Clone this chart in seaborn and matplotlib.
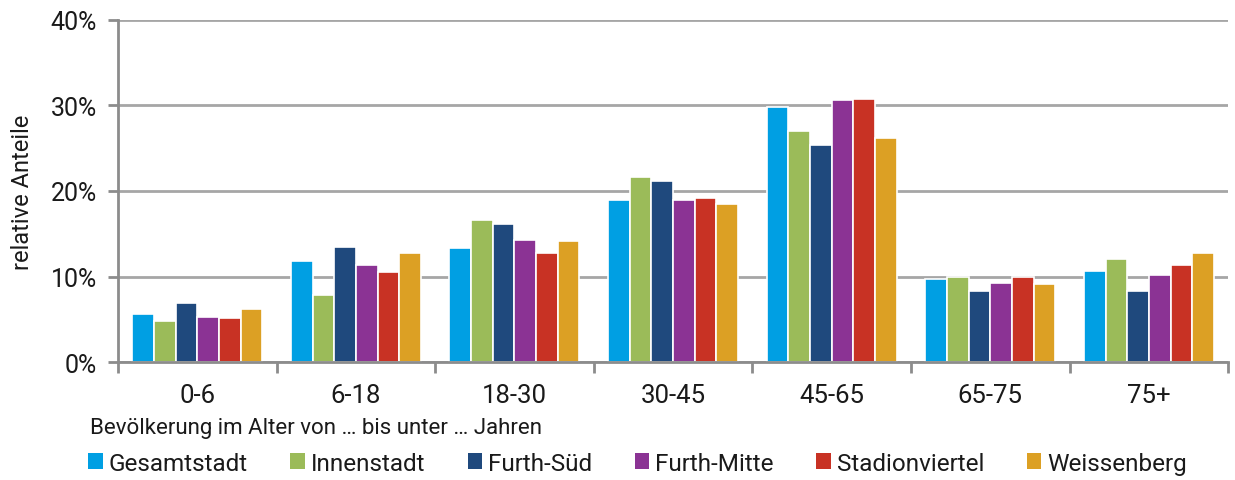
import pandas as pd
import numpy as np
import matplotlib.pyplot as plt
import seaborn as sns
from matplotlib.patches import Patch
from matplotlib.ticker import FixedLocator, PercentFormatter

age_groups = ['0-6', '6-18', '18-30', '30-45', '45-65', '65-75', '75+']
districts = ['Gesamtstadt', 'Innenstadt', 'Furth-Süd', 'Furth-Mitte', 'Stadionviertel', 'Weissenberg']
colors = ['#009FE3', '#9BBB59', '#1F497D', '#8B3394', '#C83224', '#DCA024']

gesamtstadt = [5.6, 11.8, 13.3, 18.9, 29.8, 9.7, 10.6]
innenstadt = [4.8, 7.9, 16.6, 21.6, 27.0, 10.0, 12.0]
furth_sued = [6.9, 13.5, 16.1, 21.2, 25.4, 8.3, 8.3]
furth_mitte = [5.3, 11.3, 14.3, 18.9, 30.6, 9.2, 10.2]
stadionviertel = [5.2, 10.5, 12.8, 19.2, 30.7, 9.9, 11.4]
weissenberg = [6.2, 12.8, 14.1, 18.5, 26.2, 9.1, 12.7]

values = [gesamtstadt, innenstadt, furth_sued, furth_mitte, stadionviertel, weissenberg]
rows = []
for d, vals in zip(districts, values):
    for a, v in zip(age_groups, vals):
        rows.append({'Alter': a, 'Gebiet': d, 'Anteil': v})
df = pd.DataFrame(rows)

plt.rcParams['font.family'] = ['Roboto', 'DejaVu Sans']
text_color = '#1A1A1A'

fig = plt.figure(figsize=(12.35, 4.81), dpi=100)
ax = fig.add_axes([0.0955, 0.245, 0.899, 0.712])

sns.barplot(data=df, x='Alter', y='Anteil', hue='Gebiet', order=age_groups,
            hue_order=districts, palette=colors, saturation=1, width=0.82,
            edgecolor='white', linewidth=1.2, errorbar=None, legend=False,
            ax=ax, zorder=3)

grid_color = '#A6A6A6'
ax.set_ylim(0, 40)
ax.set_xlim(-0.5, len(age_groups) - 0.5)
ax.yaxis.set_major_locator(FixedLocator([0, 10, 20, 30, 40]))
ax.yaxis.set_major_formatter(PercentFormatter(decimals=0))
ax.grid(axis='y', color=grid_color, linewidth=2, zorder=0)
ax.set_axisbelow(True)

for side in ['top', 'right']:
    ax.spines[side].set_visible(False)
for side in ['left', 'bottom']:
    ax.spines[side].set_color('#8C8C8C')
    ax.spines[side].set_linewidth(2)
    ax.spines[side].set_zorder(4)

ax.set_xticks(np.arange(-0.5, len(age_groups)), minor=True)
ax.tick_params(axis='x', which='minor', length=8, width=2, color='#8C8C8C')
ax.tick_params(axis='x', which='major', length=0, labelsize=18.5, pad=15, colors=text_color)
ax.tick_params(axis='y', length=7, width=2, color='#8C8C8C', labelsize=18, pad=8, labelcolor=text_color)

ax.set_xlabel('')
ax.set_ylabel('relative Anteile', fontsize=17, color=text_color, labelpad=12)

fig.text(0.073, 0.11, 'Bevölkerung im Alter von … bis unter … Jahren',
         fontsize=16, color=text_color, va='center')

handles = [Patch(facecolor=c, edgecolor='none') for c in colors]
fig.legend(handles, districts, loc='center left', bbox_to_anchor=(0.0635, 0.035),
           ncol=6, frameon=False, fontsize=17.5, handlelength=0.6, handleheight=0.6,
           handletextpad=0.25, columnspacing=1.74, borderaxespad=0, labelcolor=text_color)

fig.savefig('out.png', dpi=100)
